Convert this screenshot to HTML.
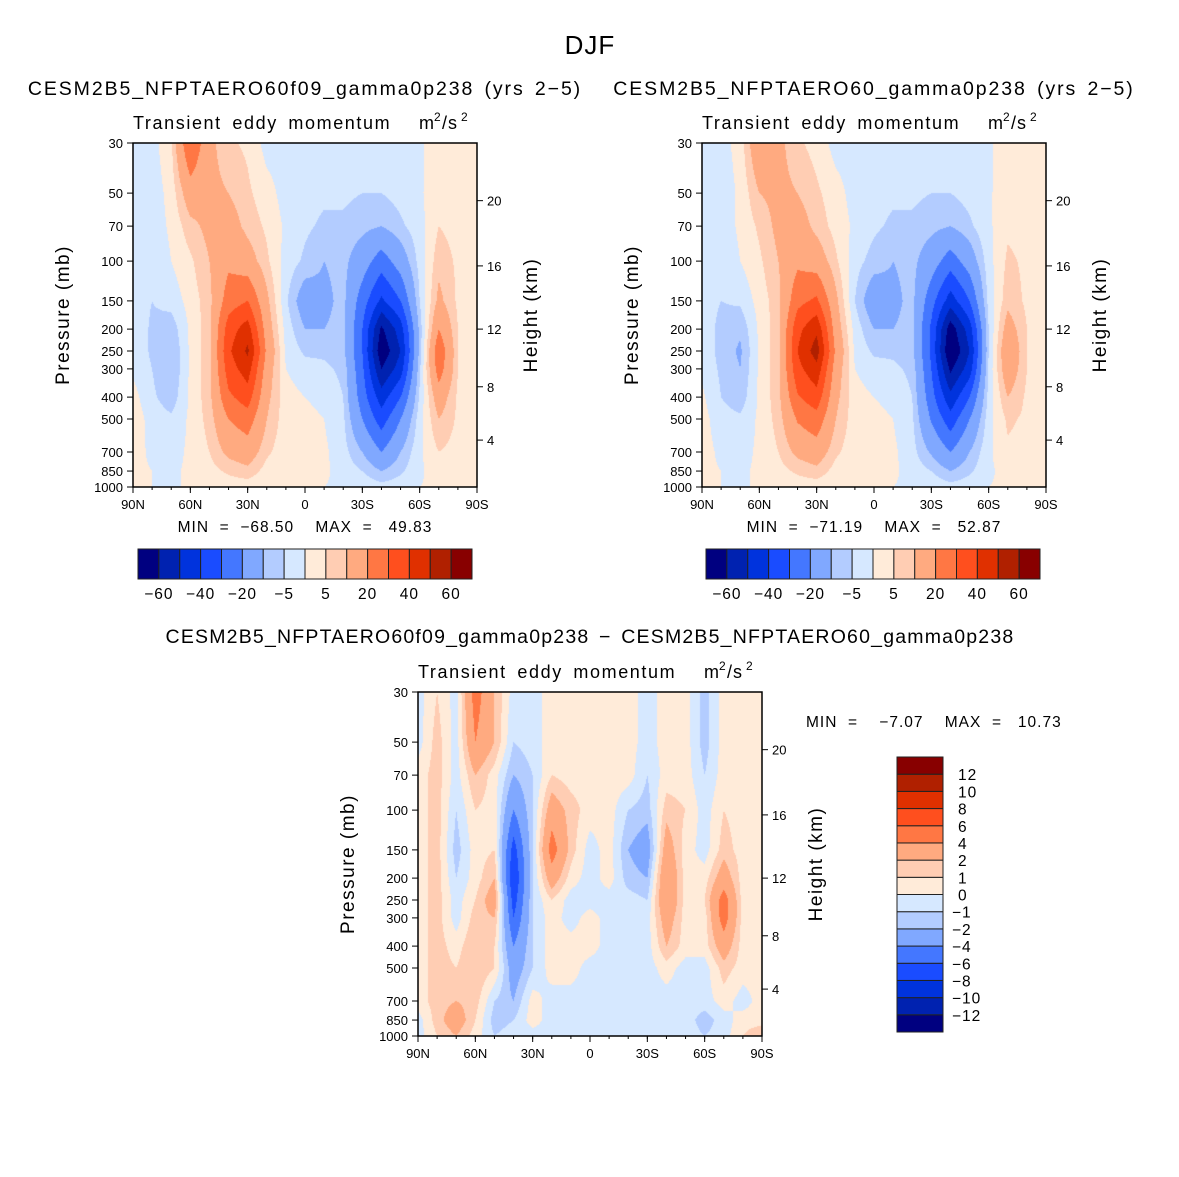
<!DOCTYPE html>
<html><head><meta charset="utf-8">
<style>
body{margin:0;background:#fff;}
#root{position:relative;width:1179px;height:1177px;overflow:hidden;background:#fff;font-family:"Liberation Sans",sans-serif;}
canvas{position:absolute;}
svg{position:absolute;left:0;top:0;}
svg text{white-space:pre;}
</style></head>
<body>
<div id="root">
<canvas id="c1" width="344" height="344" style="left:133px;top:143px"></canvas>
<canvas id="c2" width="344" height="344" style="left:702px;top:143px"></canvas>
<canvas id="c3" width="344" height="344" style="left:418px;top:692px"></canvas>
<svg id="ov" width="1179" height="1177"></svg>
</div>
<script>
const lats=["90N","80N","70N","60N","50N","40N","30N","20N","10N","0","10S","20S","30S","40S","50S","60S","70S","80S","90S"];
const plevs=[30,50,70,100,150,200,250,300,400,500,700,850,1000];
const latTicks=["90N","60N","30N","0","30S","60S","90S"];
const pTicks=[30,50,70,100,150,200,250,300,400,500,700,850,1000];
const hTicks=[4,8,12,16,20];
const hTickP=[620,360,200,105,54];
const colors=["#000080","#0022b0","#0033dd","#1a4cff","#4477ff","#80a8ff","#b3ccff","#d6e8ff","#ffebd9","#ffcdb3","#ffaa80","#ff7744","#ff4f1e","#e03000","#b02000","#880000"];
const levelsTop=[-60,-50,-40,-30,-20,-10,-5,0,5,10,20,30,40,50,60];
const levelsDiff=[-12,-10,-8,-6,-4,-2,-1,0,1,2,4,6,8,10,12];
const data1=[
[-2,-2,4,30,12,6,4,-2,-2,-2,-2,-3,-3,-3,-2,-1,3,3,3],
[-2,-3,2,15,12,10,6,2,-2,-3,-4,-4,-5,-5,-3,-1,4,3,3],
[-2,-3,1,8,12,14,8,4,-1,-4,-6,-6,-8,-10,-6,-2,5,3,3],
[-2,-4,0,4,10,18,14,6,-2,-6,-10,-8,-15,-25,-15,-3,8,4,3],
[-2,-5,-3,2,8,25,30,12,-4,-15,-12,-8,-25,-42,-30,-5,12,4,3],
[-1,-6,-8,1,8,35,45,15,-2,-10,-10,-8,-30,-62,-45,-8,20,5,3],
[-1,-6,-10,1,8,38,52,18,-1,-6,-6,-8,-30,-68,-50,-8,28,5,3],
[-1,-5,-10,1,8,35,45,15,0,-3,-4,-6,-28,-60,-45,-6,25,5,3],
[2,-4,-8,1,8,28,35,12,2,0,-2,-5,-25,-45,-30,-4,15,4,3],
[3,-2,-4,1,7,20,25,10,2,2,0,-4,-20,-35,-20,-2,10,4,2],
[2,-1,-2,1,5,12,15,6,2,2,1,-3,-10,-20,-10,-1,5,3,2],
[1,0,-1,1,3,6,8,3,1,1,1,-2,-5,-10,-6,-1,3,2,1],
[0,0,0,0,1,2,2,1,0,0,0,-1,-1,-3,-2,0,1,1,0]];
const data2=[
[-2,-2,2,18,12,6,3,-2,-2,-2,-2,-3,-3,-3,-2,-1,3,3,3],
[-2,-3,1,10,12,10,6,2,-2,-3,-4,-4,-5,-5,-3,-1,4,3,3],
[-2,-3,1,6,12,14,8,3,-1,-4,-6,-6,-8,-10,-6,-1,4,3,3],
[-2,-4,0,4,10,18,15,6,-3,-7,-10,-8,-15,-25,-15,-2,6,4,3],
[-2,-5,-4,2,8,27,32,12,-5,-16,-12,-8,-26,-45,-30,-3,8,4,3],
[-1,-7,-9,1,8,37,48,15,-2,-10,-10,-8,-32,-66,-45,-5,14,5,3],
[-1,-7,-11,1,8,40,55,18,-1,-6,-6,-8,-32,-71,-50,-5,18,5,3],
[-1,-6,-10,1,8,37,47,15,0,-3,-4,-6,-30,-62,-45,-4,16,5,3],
[1,-5,-8,1,8,29,36,12,2,0,-2,-5,-26,-47,-30,-3,10,4,3],
[2,-3,-4,1,7,21,26,10,2,2,0,-4,-21,-36,-20,-2,6,4,2],
[2,-1,-2,1,5,12,15,6,2,2,1,-3,-11,-20,-10,-1,4,3,2],
[1,0,-1,1,3,6,8,3,1,1,1,-2,-5,-10,-6,-1,2,2,1],
[0,0,0,0,1,2,2,1,0,0,0,-1,-1,-3,-2,0,1,1,0]];
const data3=[
[-0.5,1,-0.5,5,2,-0.5,-0.5,0.5,0.5,0.5,0.5,0.5,-0.5,0.5,0.5,-1.5,0.5,0.5,0.5],
[-0.5,1.5,-0.5,4,2,-1,-0.5,0.5,0.5,0.5,0.5,0.5,-0.5,0.5,0.5,-1.5,0.5,0.5,0.5],
[0.5,1.5,-0.5,2,0.5,-2,-1,1,0.5,0.5,0.5,0.5,-1,0.5,0.5,-1,0.5,0.5,0.5],
[0.5,1.5,-1,1,0.5,-4,-1,3,1.5,0.5,0.5,-1,-1.5,1.5,1,-0.5,1,0.5,0.5],
[0.5,1.5,-1.5,0.5,1,-7,-1,5,1.5,-0.5,0.5,-2,-3,3,0.5,-0.5,1.5,0.5,0.5],
[0.5,1.5,-1,0.5,2,-8,-1,3,0.5,-0.5,0.5,-1.5,-2,4,0.5,0.5,3,0.5,0.5],
[0.5,1.5,-0.5,1,3,-7,-1,1,-0.5,-0.5,-0.5,-0.5,-1,4,0.5,1,5,0.5,0.5],
[0.5,1.5,-0.5,1.5,2,-6,-1,0.5,-0.5,0.5,-0.5,-0.5,-0.5,3,0.5,0.5,5,0.5,0.5],
[0.5,1.5,0.5,2,1,-4,-1,0.5,0.5,0.5,-0.5,-0.5,-0.5,2,0.5,0.5,3,0.5,0.5],
[0.5,1.5,1,2,1,-3,-1,0.5,0.5,-0.5,-0.5,-0.5,-0.5,0.5,-0.5,-0.5,1.5,0.5,0.5],
[0.5,1.5,2,1.5,-1,-2,0.5,-0.5,-0.5,-0.5,-0.5,-0.5,-0.5,-0.5,-0.5,-0.5,0.5,-0.5,0.5],
[-0.5,1.5,3,1,-1.5,-1,0.5,-0.5,-0.5,-0.5,-0.5,-0.5,-0.5,-0.5,-0.5,-1.5,-0.5,0.5,0.5],
[-0.5,1,2,0.5,-1,-0.5,-0.5,-0.5,-0.5,-0.5,-0.5,-0.5,-0.5,-0.5,-0.5,-1,-0.5,1,2]];

const W=344,H=344;
const LP0=Math.log(30),LP1=Math.log(1000);
function yOfP(p){return (Math.log(p)-LP0)/(LP1-LP0)*H;}
function hexToRgb(h){return [parseInt(h.substr(1,2),16),parseInt(h.substr(3,2),16),parseInt(h.substr(5,2),16)];}
const rgb=colors.map(hexToRgb);
function drawField(id,data,levels){
  const cv=document.getElementById(id),ctx=cv.getContext('2d');
  const img=ctx.createImageData(W,H);
  const rowY=plevs.map(yOfP);
  for(let py=0;py<H;py++){
    const yy=py+0.5;
    let r=0;while(r<rowY.length-2&&rowY[r+1]<yy)r++;
    const ty=Math.min(1,Math.max(0,(yy-rowY[r])/(rowY[r+1]-rowY[r])));
    for(let px=0;px<W;px++){
      const fx=(px+0.5)/W*(lats.length-1);
      const c=Math.min(lats.length-2,Math.floor(fx));const tx=fx-c;
      const v=(data[r][c]*(1-tx)+data[r][c+1]*tx)*(1-ty)+(data[r+1][c]*(1-tx)+data[r+1][c+1]*tx)*ty;
      let k=0;while(k<levels.length&&v>=levels[k])k++;
      const col=rgb[k];const o=(py*W+px)*4;
      img.data[o]=col[0];img.data[o+1]=col[1];img.data[o+2]=col[2];img.data[o+3]=255;
    }
  }
  ctx.putImageData(img,0,0);
}
drawField('c1',data1,levelsTop);
drawField('c2',data2,levelsTop);
drawField('c3',data3,levelsDiff);

const NS='http://www.w3.org/2000/svg';
const ov=document.getElementById('ov');
function el(tag,attrs,parent){const e=document.createElementNS(NS,tag);for(const k in attrs)e.setAttribute(k,attrs[k]);(parent||ov).appendChild(e);return e;}
function txt(x,y,s,size,anchor,name,extra){const t=el('text',Object.assign({x:x,y:y,'font-size':size,'text-anchor':anchor||'start','font-family':'Liberation Sans, sans-serif',fill:'#000'},extra||{}));t.textContent=s;


return t;}

txt(590,54,'DJF',26,'middle','figure-title',{'letter-spacing':'1'});

function axes(L,T){
  el('rect',{x:L,y:T,width:W,height:H,fill:'none',stroke:'#000','stroke-width':1.5});
  latTicks.forEach((lab,i)=>{
    const x=L+i/(latTicks.length-1)*W;
    el('line',{x1:x,y1:T+H,x2:x,y2:T+H+6,stroke:'#000','stroke-width':1});
    txt(x,T+H+22,lab,13,'middle','x-tick-label');
  });
  for(let i=0;i<=18;i++){const x=L+i/18*W;el('line',{x1:x,y1:T+H,x2:x,y2:T+H+3,stroke:'#000','stroke-width':1});}
  pTicks.forEach(p=>{
    const y=T+yOfP(p);
    el('line',{x1:L-6,y1:y,x2:L,y2:y,stroke:'#000','stroke-width':1});
    txt(L-10,y+5,String(p),13,'end','y-tick-label');
  });
  hTicks.forEach((h,i)=>{
    const y=T+yOfP(hTickP[i]);
    el('line',{x1:L+W,y1:y,x2:L+W+6,y2:y,stroke:'#000','stroke-width':1});
    txt(L+W+10,y+5,String(h),13,'start','right-tick-label');
  });
  txt(L-64,T+H/2,'Pressure (mb)',19,'middle','y-axis-title',{transform:`rotate(-90 ${L-64} ${T+H/2})`,'letter-spacing':'1.5'});
  txt(L+W+60,T+H/2,'Height (km)',19,'middle','right-axis-title',{transform:`rotate(-90 ${L+W+60} ${T+H/2})`,'letter-spacing':'1.5'});
  txt(L,T-14,'Transient eddy momentum',18,'start','subtitle-left',{'letter-spacing':'1.6','word-spacing':'4'});
  txt(L+W-58,T-14,'m',18,'start','units-label');
  txt(L+W-43,T-22,'2',12,'start','units-label');
  txt(L+W-35,T-14,'/s',18,'start','units-label',{'letter-spacing':'1'});
  txt(L+W-16,T-22,'2',12,'start','units-label');
}
axes(133,143);axes(702,143);axes(418,692);
const ts={'letter-spacing':'1.9','word-spacing':'3'};
txt(305,95,'CESM2B5_NFPTAERO60f09_gamma0p238 (yrs 2−5)',19.5,'middle','panel-1-title',ts);
txt(874,95,'CESM2B5_NFPTAERO60_gamma0p238 (yrs 2−5)',19.5,'middle','panel-2-title',ts);
txt(590,643,'CESM2B5_NFPTAERO60f09_gamma0p238 − CESM2B5_NFPTAERO60_gamma0p238',19.5,'middle','panel-3-title',{'letter-spacing':'1.2','word-spacing':'3'});
const ms={'letter-spacing':'1'};
txt(305,532,'MIN  =  −68.50    MAX  =   49.83',15.5,'middle','panel-1-minmax',ms);
txt(874,532,'MIN  =  −71.19    MAX  =   52.87',15.5,'middle','panel-2-minmax',ms);
txt(806,727,'MIN  =    −7.07    MAX  =   10.73',15.5,'start','panel-3-minmax',ms);

function hbar(L,T,w,h,labels){
  const n=colors.length,bw=w/n;
  colors.forEach((c,i)=>{
    const r=el('rect',{x:L+i*bw,y:T,width:bw,height:h,fill:c,stroke:'#222','stroke-width':1});
    
    
  });
  labels.forEach((lab,i)=>{
    if(i%2===0){txt(L+(i+1)*bw,T+h+20,(lab<0?'−':'')+Math.abs(lab),15.5,'middle','colorbar-label',{'letter-spacing':'1'});}
  });
}
hbar(138,549,334,30,levelsTop);
hbar(706,549,334,30,levelsTop);
(function(){
  const L=897,T=757,w=46,h=275,n=colors.length,bh=h/n;
  colors.forEach((c,i)=>{
    const r=el('rect',{x:L,y:T+h-(i+1)*bh,width:w,height:bh,fill:c,stroke:'#222','stroke-width':1});
    
    
  });
  levelsDiff.forEach((lab,i)=>{
    const y=T+h-(i+1)*bh;
    txt(lab<0?952:958,y+6,(lab<0?'−':'')+Math.abs(lab),15.5,'start','colorbar-label',{'letter-spacing':'1'});
  });
})();
</script>
</body></html>
